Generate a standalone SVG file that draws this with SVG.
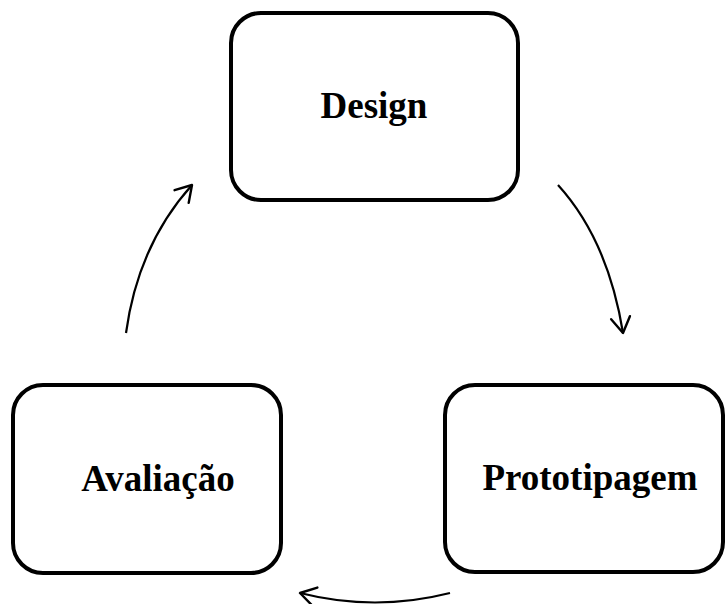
<svg xmlns="http://www.w3.org/2000/svg" width="726" height="604" viewBox="0 0 726 604">
<style>
.box{fill:#fff;stroke:#000;stroke-width:4}
.lbl{font-family:"Liberation Serif","Times New Roman",serif;font-weight:bold;font-size:37px;fill:#000;text-anchor:middle}
.conn{fill:none;stroke:#000;stroke-width:2.2;marker-end:url(#ah)}
</style>
<defs>
<marker id="ah" markerUnits="userSpaceOnUse" markerWidth="20" markerHeight="20" refX="16" refY="10" orient="auto" overflow="visible">
<path d="M0.5,0.5 L16,10 L0.5,19.5" fill="none" stroke="#000" stroke-width="2.4" stroke-linecap="round" stroke-linejoin="round"/>
</marker>
</defs>
<rect width="726" height="604" fill="#fff"/>
<g id="design">
<rect class="box" x="231" y="13" width="287" height="187" rx="30" ry="30"/>
<text class="lbl" x="374" y="118">Design</text>
</g>
<g id="prototipagem">
<rect class="box" x="445" y="385" width="278" height="187" rx="30" ry="30"/>
<text class="lbl" x="590" y="490">Prototipagem</text>
</g>
<g id="avaliacao">
<rect class="box" x="13" y="385" width="268" height="188" rx="30" ry="30"/>
<text class="lbl" x="158" y="491">Avaliação</text>
</g>
<g id="connectors">
<path class="conn" d="M558,185 Q608,240 623,333"/>
<path class="conn" d="M450,593 Q375,612 300,593"/>
<path class="conn" d="M126,333 Q138,245 192,185"/>
</g>
</svg>
